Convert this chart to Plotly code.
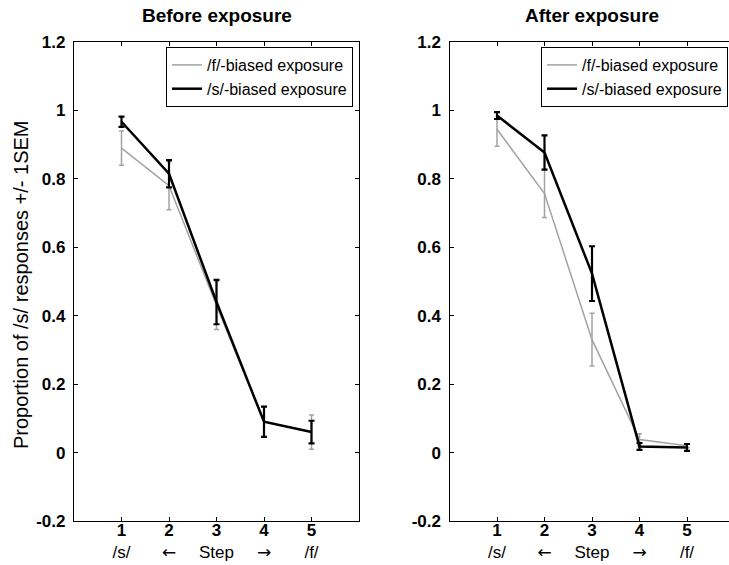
import plotly.graph_objects as go

steps = [1, 2, 3, 4, 5]
ARW = '<span style="font-family:DejaVu Sans">{}</span>'
step_labels = ["<b>1</b><br>/s/", "<b>2</b><br>" + ARW.format("←"), "<b>3</b><br>Step",
               "<b>4</b><br>" + ARW.format("→"), "<b>5</b><br>/f/"]

# Before exposure
before_f = [0.89, 0.78, 0.43, 0.09, 0.06]
before_f_sem = [0.05, 0.07, 0.07, 0.045, 0.05]
before_s = [0.967, 0.815, 0.44, 0.09, 0.06]
before_s_sem = [0.015, 0.04, 0.065, 0.044, 0.033]

# After exposure
after_f = [0.945, 0.757, 0.33, 0.038, 0.02]
after_f_sem = [0.05, 0.07, 0.077, 0.017, 0.006]
after_s = [0.985, 0.877, 0.523, 0.018, 0.015]
after_s_sem = [0.01, 0.05, 0.08, 0.01, 0.01]

y_ticks = [-0.2, 0, 0.2, 0.4, 0.6, 0.8, 1, 1.2]
y_ticklabels = ["<b>-0.2</b>", "<b>0</b>", "<b>0.2</b>", "<b>0.4</b>", "<b>0.6</b>", "<b>0.8</b>", "<b>1</b>", "<b>1.2</b>"]

GRAY = "#a2a2a2"
FONT = "Liberation Sans, Arial, sans-serif"

W, H = 729, 565
TOP, BOTTOM = 42, 44

fig = go.Figure()

def add_pair(xa, ya, f, fsem, s, ssem, legend):
    fig.add_trace(go.Scatter(
        x=steps, y=f, mode="lines", name="/f/-biased exposure",
        line=dict(color=GRAY, width=1.5),
        error_y=dict(type="data", array=fsem, color=GRAY, thickness=1.5, width=2.5),
        xaxis=xa, yaxis=ya, legend=legend))
    fig.add_trace(go.Scatter(
        x=steps, y=s, mode="lines", name="/s/-biased exposure",
        line=dict(color="black", width=2.5),
        error_y=dict(type="data", array=ssem, color="black", thickness=2.2, width=3),
        xaxis=xa, yaxis=ya, legend=legend))

add_pair("x", "y", before_f, before_f_sem, before_s, before_s_sem, "legend")
add_pair("x2", "y2", after_f, after_f_sem, after_s, after_s_sem, "legend2")

left0, left1 = 74 / W, 359 / W
right0 = 449.5 / W

def py(px):
    # pixel from top -> paper y coordinate (plot area spans TOP..H-BOTTOM)
    return (H - BOTTOM - px) / (H - TOP - BOTTOM)

xcommon = dict(tickmode="array", tickvals=steps, ticktext=step_labels,
               ticks="inside", ticklen=4, tickwidth=1, tickcolor="black",
               showline=True, linecolor="black", linewidth=1.3,
               showgrid=False, zeroline=False, automargin=False,
               ticklabelstandoff=-7,
               tickfont=dict(family=FONT, size=17, color="black"))
ycommon = dict(tickmode="array", tickvals=y_ticks, ticktext=y_ticklabels,
               range=[-0.2, 1.2], domain=[0, 1],
               ticks="inside", ticklen=4, tickwidth=1, tickcolor="black",
               showline=True, linecolor="black", linewidth=1.3,
               showgrid=False, zeroline=False, ticklabelstandoff=4, automargin=False,
               tickfont=dict(family=FONT, size=17, color="black"))

legcommon = dict(xanchor="right", yanchor="top",
                 bordercolor="black", borderwidth=1, bgcolor="white",
                 font=dict(family=FONT, size=16, color="black"),
                 tracegroupgap=0, itemwidth=30, traceorder="normal")

fig.update_layout(
    width=W, height=H,
    margin=dict(l=0, r=0, t=TOP, b=BOTTOM),
    paper_bgcolor="white", plot_bgcolor="white",
    font=dict(family=FONT, color="black"),
    xaxis=dict(xcommon, domain=[left0, left1], range=[0, 6], mirror="ticks", anchor="y"),
    yaxis=dict(ycommon, mirror="ticks", anchor="x"),
    xaxis2=dict(xcommon, domain=[right0, 1.0], range=[0, (W - 449.5) / 47.5], mirror="ticks", anchor="y2"),
    yaxis2=dict(ycommon, mirror=False, anchor="x2"),
    legend=dict(legcommon, x=353 / W, y=py(47)),
    legend2=dict(legcommon, x=728 / W, y=py(47)),
    annotations=[
        dict(text="<b>Before exposure</b>", x=(left0 + left1) / 2, y=py(15),
             xanchor="center", yanchor="middle",
             xref="paper", yref="paper", showarrow=False, font=dict(size=19, family=FONT)),
        dict(text="<b>After exposure</b>", x=592 / W, y=py(15),
             xanchor="center", yanchor="middle",
             xref="paper", yref="paper", showarrow=False, font=dict(size=19, family=FONT)),
        dict(text="Proportion of /s/ responses +/- 1SEM", x=21 / W, y=py(285),
             xanchor="center", yanchor="middle",
             xref="paper", yref="paper", showarrow=False, textangle=-90,
             font=dict(size=20, family=FONT)),
    ],
)

fig.write_html("out.html")
